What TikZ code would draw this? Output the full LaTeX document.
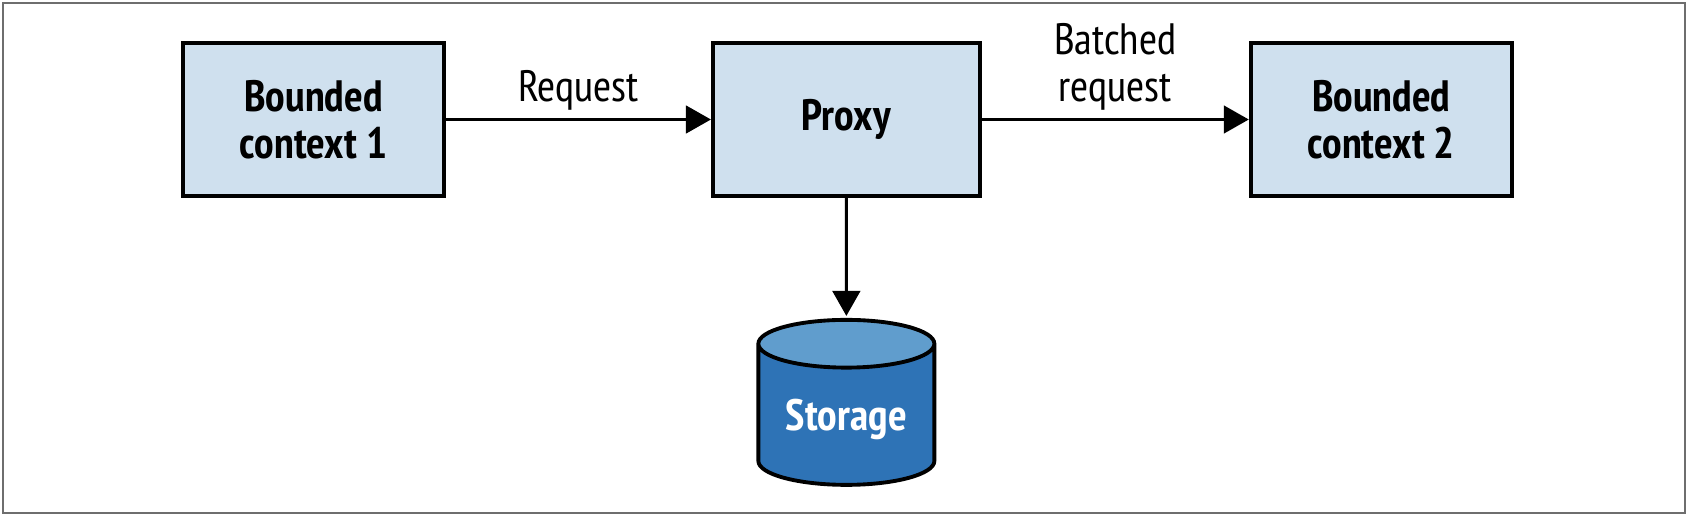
\documentclass[tikz,border=0pt]{standalone}
\usepackage{fontspec}
\setmainfont{PT Sans Narrow}
\usepackage{tikz}
\usetikzlibrary{shapes.geometric, arrows.meta, positioning}

\definecolor{ctxblue}{RGB}{207,224,238}
\definecolor{dbblue}{RGB}{46,115,182}
\definecolor{dbtop}{RGB}{96,157,205}
\definecolor{framegray}{RGB}{110,110,110}

\begin{document}
\begin{tikzpicture}[
    context/.style={rectangle, draw=black, fill=ctxblue, line width=2.2pt, minimum width=5.22cm, minimum height=3.06cm, align=center, font=\fontsize{25}{26.5}\selectfont\bfseries},
    database/.style={cylinder, shape border rotate=90, shape aspect=0.36, draw=black, line width=2.2pt, cylinder uses custom fill, cylinder body fill=dbblue, cylinder end fill=dbtop, minimum width=3.52cm, minimum height=3.3cm, text=white, font=\fontsize{25}{26.5}\selectfont\bfseries},
    lbl/.style={font=\fontsize{25}{26.5}\selectfont, align=center},
    arrow/.style={-{Triangle[length=0.5cm, width=0.55cm]}, line width=1.8pt}
]

% Frame
\useasboundingbox (0,0) rectangle (33.76,10.32);
\draw[framegray, line width=0.9pt] (0.06,0.06) rectangle (33.70,10.26);

% Boxes
\node[context] (ctx1) at (6.27,7.93) {Bounded\\context 1};
\node[context, right=5.3cm of ctx1, minimum width=5.34cm] (proxy) {Proxy};
\node[context, right=5.34cm of proxy] (ctx2) {Bounded\\context 2};

% Storage
\node[database, below=2.4cm of proxy] (store) {Storage};

% Arrows
\draw[arrow] (ctx1) -- node[lbl, above=1pt] (reqlbl) {Request} (proxy);
\draw[arrow] (proxy) -- node[lbl, above=1pt] (batchlbl) {Batched\\request} (ctx2);
\draw[arrow, shorten >=0.04cm] (proxy) -- (store.top);

\end{tikzpicture}
\end{document}
